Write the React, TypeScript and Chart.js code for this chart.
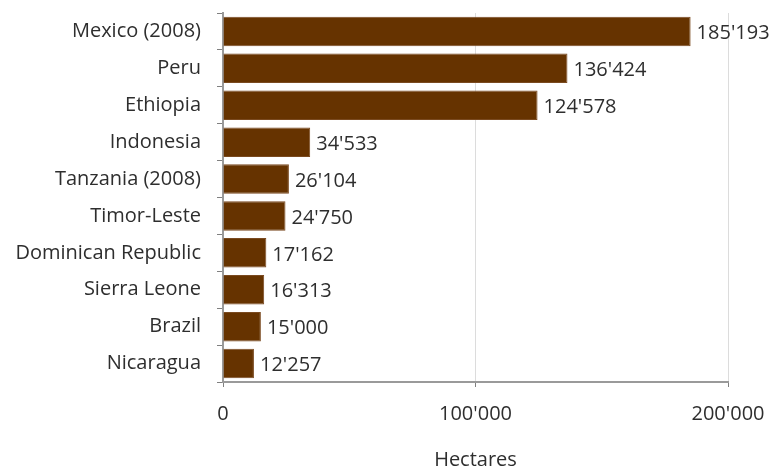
import React, { useEffect, useRef } from "react";
import { Chart, registerables } from "chart.js";

Chart.register(...registerables);

const categories = [
  "Mexico (2008)",
  "Peru",
  "Ethiopia",
  "Indonesia",
  "Tanzania (2008)",
  "Timor-Leste",
  "Dominican Republic",
  "Sierra Leone",
  "Brazil",
  "Nicaragua",
];
const hectares = [185193, 136424, 124578, 34533, 26104, 24750, 17162, 16313, 15000, 12257];
const xTicks = [0, 100000, 200000];
const axisTitle = "Hectares";

const fmt = (v: number) => String(Math.round(v)).replace(/\B(?=(\d{3})+(?!\d))/g, "'");

const FONT = "'Open Sans', Lato, sans-serif";
const TEXT = "#2e2e2e";
const SIZE = 20;

const zeroPad = (s: any) => {
  s.paddingTop = 0;
  s.paddingBottom = 0;
  s.paddingLeft = 0;
  s.paddingRight = 0;
};

const valueLabels = {
  id: "valueLabels",
  afterDatasetsDraw(chart: any) {
    const ctx = chart.ctx;
    const meta = chart.getDatasetMeta(0);
    ctx.save();
    ctx.font = `${SIZE}px ${FONT}`;
    ctx.fillStyle = TEXT;
    ctx.textAlign = "left";
    ctx.textBaseline = "middle";
    meta.data.forEach((bar: any, i: number) => {
      ctx.fillText(fmt(hectares[i]), bar.x + 6, bar.y + 2);
    });
    ctx.restore();
  },
};

export default function App() {
  const ref = useRef<HTMLCanvasElement | null>(null);
  useEffect(() => {
    document.body.style.margin = "0";
    const chart = new Chart(ref.current!, {
      type: "bar",
      data: {
        labels: categories,
        datasets: [
          {
            data: hectares,
            backgroundColor: "#663300",
            borderColor: "#7a4a20",
            borderWidth: 1,
            barPercentage: 0.8,
            categoryPercentage: 1,
          },
        ],
      },
      options: {
        indexAxis: "y",
        animation: false,
        responsive: false,
        maintainAspectRatio: false,
        layout: { padding: { top: 13, right: 48, left: 0, bottom: 0 } },
        plugins: { legend: { display: false }, tooltip: { enabled: false } },
        scales: {
          x: {
            min: 0,
            max: 200000,
            afterBuildTicks: (s: any) => {
              s.ticks = xTicks.map((v) => ({ value: v }));
            },
            afterFit: (s: any) => {
              s.height = 87;
              zeroPad(s);
            },
            border: { display: true, color: "#9a9a9a", width: 2 },
            grid: {
              display: true,
              color: "#dcdcdc",
              tickColor: "#808080",
              tickLength: 5,
              drawOnChartArea: true,
            },
            ticks: {
              font: { family: FONT, size: SIZE },
              color: TEXT,
              padding: 15,
              maxRotation: 0,
              callback: (v: any) => fmt(Number(v)),
            },
            title: {
              display: true,
              text: axisTitle,
              font: { family: FONT, size: SIZE },
              color: TEXT,
              padding: { top: 0, bottom: -3 },
            },
          },
          y: {
            afterFit: (s: any) => {
              s.width = 223;
              zeroPad(s);
            },
            border: { display: true, color: "#9a9a9a", width: 2 },
            grid: {
              display: true,
              offset: true,
              drawOnChartArea: false,
              tickColor: "#808080",
              tickLength: 6,
            },
            ticks: {
              font: { family: FONT, size: SIZE },
              color: TEXT,
              padding: 16,
            },
          },
        },
      },
      plugins: [valueLabels],
    });
    return () => chart.destroy();
  }, []);
  return (
    <div style={{ width: 776, height: 469 }}>
      <canvas ref={ref} width={776} height={469} style={{ width: 776, height: 469, display: "block" }} />
    </div>
  );
}
